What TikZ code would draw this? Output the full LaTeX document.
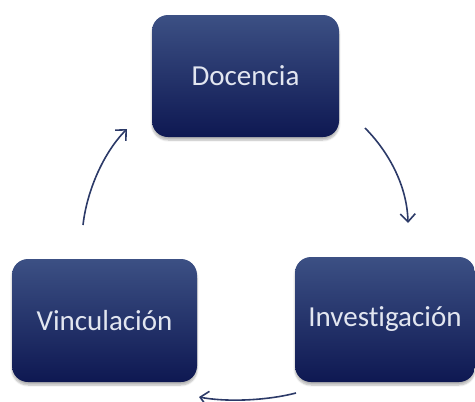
\documentclass[tikz,border=0pt]{standalone}
\usepackage{fontspec}
\setmainfont[Ligatures=CommonOff]{Carlito}
\usetikzlibrary{arrows.meta,shadows.blur}
\definecolor{boxtop}{RGB}{60,80,132}
\definecolor{boxbot}{RGB}{14,24,82}
\definecolor{arrowcol}{RGB}{44,58,104}
\definecolor{txtcol}{RGB}{226,230,240}
\tikzset{
  cyclebox/.style={rounded corners=16pt, top color=boxtop, bottom color=boxbot,
    text=txtcol, font=\fontsize{29}{34}\selectfont, inner sep=0pt,
    blur shadow={shadow xshift=0pt, shadow yshift=-3pt, shadow blur steps=6, shadow opacity=30}},
  cyclearrow/.style={draw=arrowcol, line width=1.6pt,
    -{Straight Barb[length=8pt,width=15pt,line width=1.6pt]}}
}
\begin{document}
\begin{tikzpicture}[x=1pt,y=-1pt]
\useasboundingbox (0,0) rectangle (475,402);
\node[cyclebox, minimum width=187pt, minimum height=122pt] (doc) at (245.5,76) {Docencia};
\node[cyclebox, minimum width=185pt, minimum height=123pt] (vin) at (104.5,320.5) {Vinculación};
\node[cyclebox, minimum width=180pt, minimum height=125pt] (inv) at (385,319.5) {Investigación};
\coordinate (r1) at (365,128);
\coordinate (r2) at (408,223);
\coordinate (b1) at (296,393);
\coordinate (b2) at (199,397);
\coordinate (l1) at (83,225);
\coordinate (l2) at (127,129);
\draw[cyclearrow] (r1) .. controls (385,148) and (407,182) .. (r2);
\draw[cyclearrow] (b1) .. controls (265,401) and (225,402) .. (b2);
\draw[cyclearrow] (l1) .. controls (87,190) and (104,152) .. (l2);
\end{tikzpicture}
\end{document}
